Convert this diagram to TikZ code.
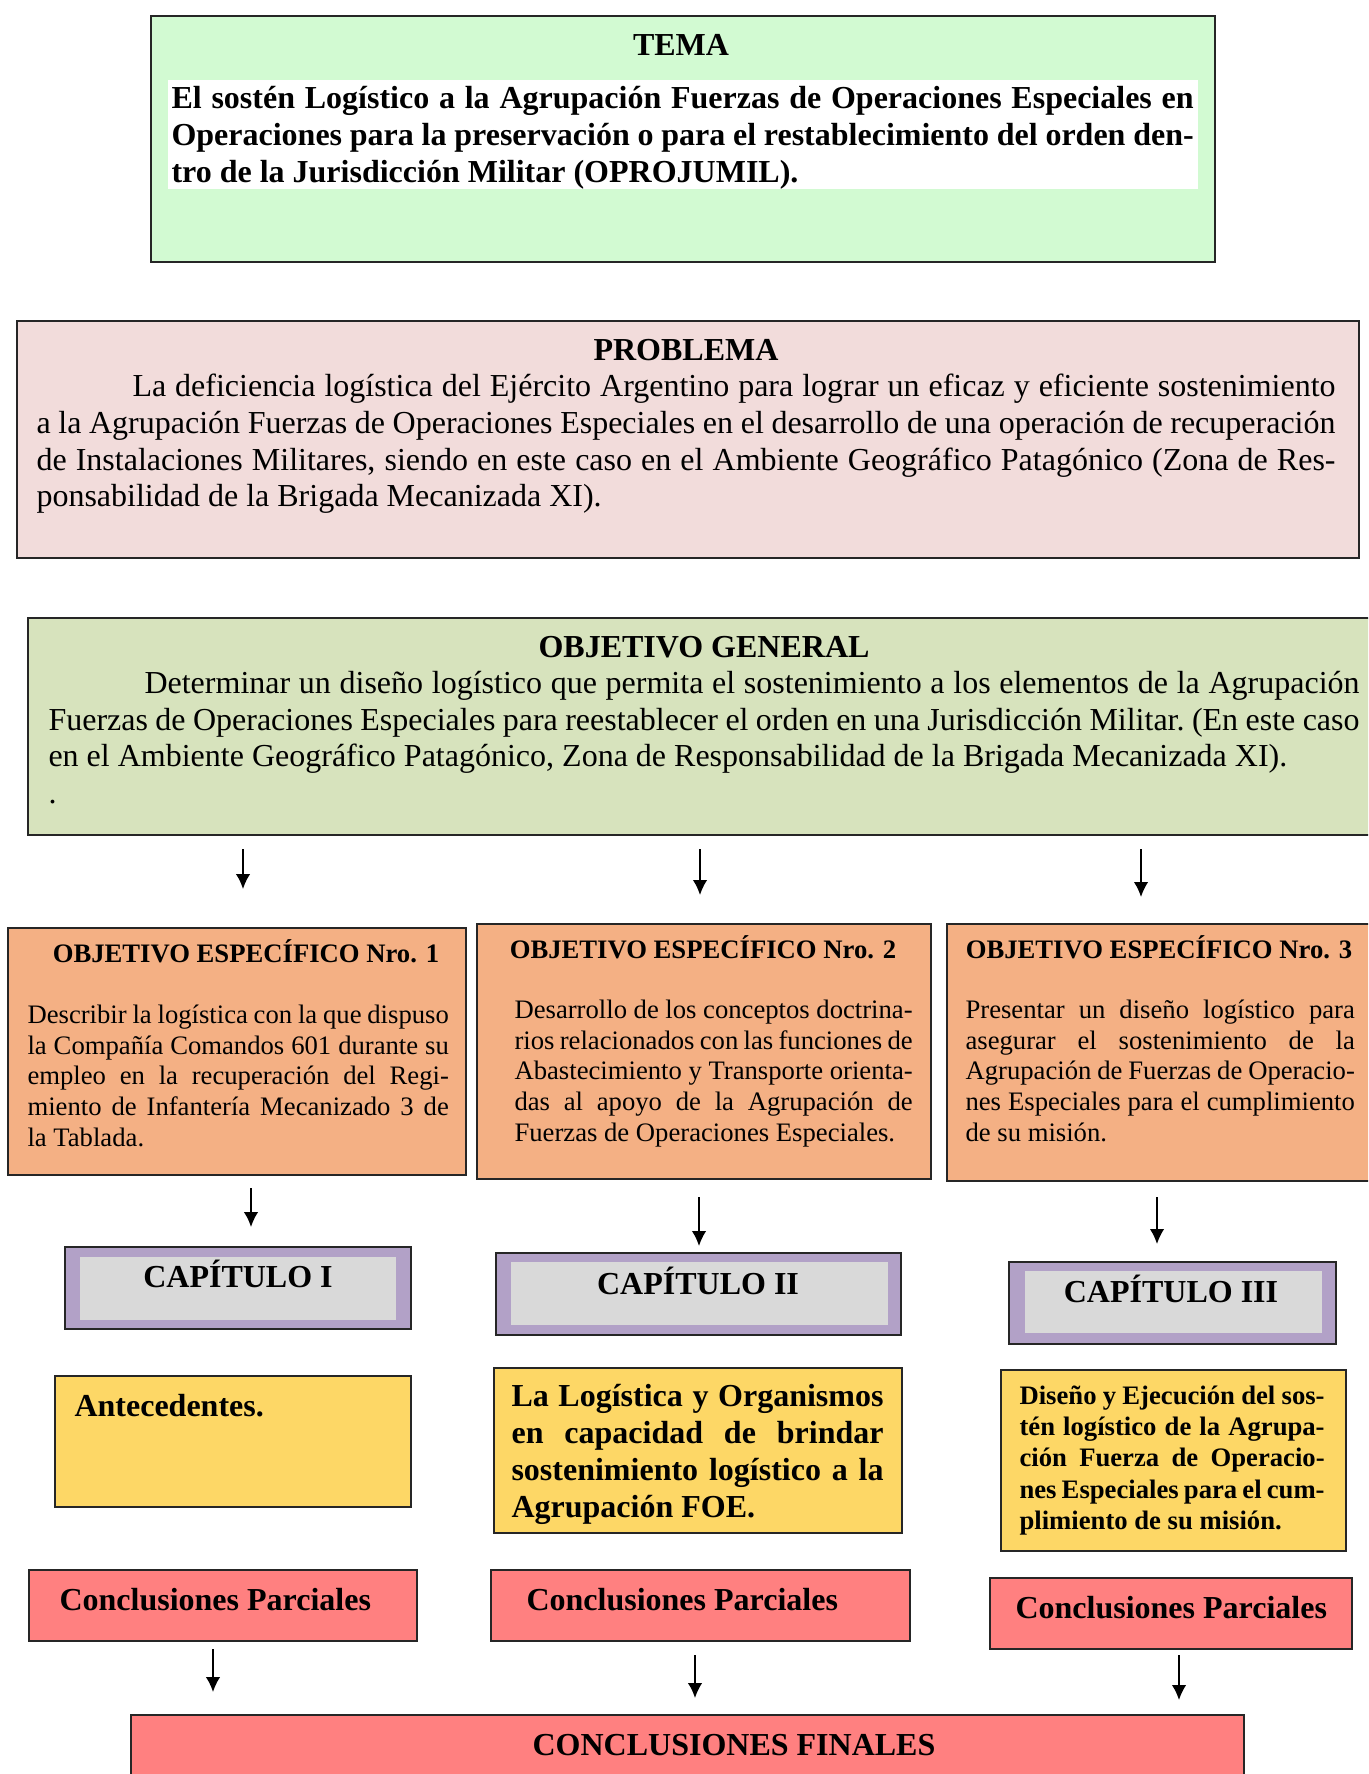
\documentclass[tikz,border=0pt]{standalone}
\usepackage{fontspec}
\setmainfont{Liberation Serif}
\usepackage{tikz}
\usetikzlibrary{positioning}
\usetikzlibrary{shapes,arrows.meta}
\definecolor{temagreen}{RGB}{210,250,210}
\definecolor{probpink}{RGB}{242,220,219}
\definecolor{objgreen}{RGB}{215,227,189}
\definecolor{esporange}{RGB}{244,176,132}
\definecolor{cappurple}{RGB}{178,161,199}
\definecolor{capgray}{RGB}{217,217,217}
\definecolor{contyellow}{RGB}{253,215,102}
\definecolor{concred}{RGB}{255,128,128}
\newcommand{\jl}[1]{\makebox[\linewidth][s]{#1}}
\newcommand{\topstrut}{\rule{0pt}{1em}}
\tikzstyle{box} = [rectangle, draw=black!85, line width=0.8pt, anchor=north west, inner sep=0pt]
\tikzstyle{inbox} = [rectangle, anchor=north west, inner sep=0pt]
\tikzstyle{title} = [anchor=base, inner sep=0pt, font=\fontsize{12}{13.8}\selectfont\bfseries]
\tikzstyle{subtitle} = [anchor=base, inner sep=0pt, font=\fontsize{10}{11.5}\selectfont\bfseries]
\tikzstyle{textblock} = [anchor=north west, inner sep=0pt, align=left,
    execute at begin node={\frenchspacing\spaceskip=0pt\xspaceskip=0pt}]
\tikzstyle{para} = [textblock, yshift=12pt, font=\fontsize{12}{13.8}\selectfont]
\tikzstyle{small} = [textblock, yshift=10pt, font=\fontsize{10}{11.5}\selectfont]
\tikzstyle{line} = [draw, -{Latex[length=5.6pt, width=5.4pt]}, line width=0.6pt]

\begin{document}
\begin{tikzpicture}[x=0.375pt, y=-0.375pt]
\useasboundingbox (0,0) rectangle (1368,1774);
\clip (0,0) rectangle (1368,1774);
            % Boxes
        \node [box, fill=temagreen, minimum width=399pt, minimum height=92.25pt] (tema) at (150,15) {};
        \node [inbox, fill=white, minimum width=386.25pt, minimum height=40.88pt] (temaband) at (167,79) {};
        \node [box, fill=probpink, minimum width=503.25pt, minimum height=88.88pt] (prob) at (16,320) {};
        \node [box, fill=objgreen, minimum width=507.38pt, minimum height=81.38pt] (obj) at (27,617) {};
        \node [box, fill=esporange, minimum width=171.75pt, minimum height=92.63pt] (esp1) at (7,927) {};
        \node [box, fill=esporange, minimum width=170.25pt, minimum height=95.63pt] (esp2) at (476,923) {};
        \node [box, fill=esporange, minimum width=162.75pt, minimum height=96.38pt] (esp3) at (946,923) {};
        \node [box, fill=cappurple, minimum width=129.75pt, minimum height=30.75pt] (cap1) at (64,1246) {};
        \node [inbox, fill=capgray, minimum width=118.5pt, minimum height=23.63pt] (cap1in) at (79,1256) {};
        \node [box, fill=cappurple, minimum width=151.88pt, minimum height=30.75pt] (cap2) at (495,1252) {};
        \node [inbox, fill=capgray, minimum width=141.38pt, minimum height=23.63pt] (cap2in) at (510,1261) {};
        \node [box, fill=cappurple, minimum width=122.63pt, minimum height=30.75pt] (cap3) at (1008,1261) {};
        \node [inbox, fill=capgray, minimum width=111.38pt, minimum height=23.25pt] (cap3in) at (1024,1270) {};
        \node [box, fill=contyellow, minimum width=133.5pt, minimum height=49.13pt] (cont1) at (54,1375) {};
        \node [box, fill=contyellow, minimum width=153pt, minimum height=61.88pt] (cont2) at (493,1367) {};
        \node [box, fill=contyellow, minimum width=129.38pt, minimum height=67.88pt] (cont3) at (1000,1369) {};
        \node [box, fill=concred, minimum width=145.5pt, minimum height=26.63pt] (parc1) at (28,1569) {};
        \node [box, fill=concred, minimum width=157.13pt, minimum height=26.63pt] (parc2) at (490,1569) {};
        \node [box, fill=concred, minimum width=135.75pt, minimum height=26.63pt] (parc3) at (989,1577) {};
        \node [box, fill=concred, minimum width=417.38pt, minimum height=40pt] (fin) at (130,1714) {};
            % Texts
        \node [title] (temahead) at (681,56) {TEMA};
        \node [para, font=\fontsize{12}{13.8}\selectfont\bfseries, text width=383.3pt] (tematext) at (171,108)
            {\jl{\topstrut El sostén Logístico a la Agrupación Fuerzas de Operaciones Especiales en}\\
             \jl{Operaciones para la preservación o para el restablecimiento del orden den-}\\
             tro de la Jurisdicción Militar (OPROJUMIL).};
        \node [title] (probhead) at (686,361) {PROBLEMA};
        \node [para, text width=487.1pt] (probtext) at (36,396)
            {\jl{\topstrut\hspace*{36pt}La deficiencia logística del Ejército Argentino para lograr un eficaz y eficiente sostenimiento}\\
             \jl{a la Agrupación Fuerzas de Operaciones Especiales en el desarrollo de una operación de recuperación}\\
             \jl{de Instalaciones Militares, siendo en este caso en el Ambiente Geográfico Patagónico (Zona de Res-}\\
             ponsabilidad de la Brigada Mecanizada XI).};
        \node [title] (objhead) at (704,657) {OBJETIVO GENERAL};
        \node [para, font=\fontsize{12}{13.7}\selectfont, text width=491.6pt] (objtext) at (48,693)
            {\jl{\topstrut\hspace*{36pt}Determinar un diseño logístico que permita el sostenimiento a los elementos de la Agrupación}\\
             \jl{Fuerzas de Operaciones Especiales para reestablecer el orden en una Jurisdicción Militar. (En este caso}\\
             en el Ambiente Geográfico Patagónico, Zona de Responsabilidad de la Brigada Mecanizada XI).\\
             .};
        \node [subtitle] (esp1head) at (246,962) {OBJETIVO ESPECÍFICO Nro. 1};
        \node [small, text width=158pt] (esp1text) at (27,1023)
            {\jl{\topstrut Describir la logística con la que dispuso}\\
             \jl{la Compañía Comandos 601 durante su}\\
             \jl{empleo en la recuperación del Regi-}\\
             \jl{miento de Infantería Mecanizado 3 de}\\
             la Tablada.};
        \node [subtitle] (esp2head) at (703,958) {OBJETIVO ESPECÍFICO Nro. 2};
        \node [small, text width=149.3pt] (esp2text) at (514,1018)
            {\jl{\topstrut Desarrollo de los conceptos doctrina-}\\
             \jl{rios relacionados con las funciones de}\\
             \jl{Abastecimiento y Transporte orienta-}\\
             \jl{das al apoyo de la Agrupación de}\\
             Fuerzas de Operaciones Especiales.};
        \node [subtitle] (esp3head) at (1159,958) {OBJETIVO ESPECÍFICO Nro. 3};
        \node [small, text width=146pt] (esp3text) at (965,1018)
            {\jl{\topstrut Presentar un diseño logístico para}\\
             \jl{asegurar el sostenimiento de la}\\
             \jl{Agrupación de Fuerzas de Operacio-}\\
             \jl{nes Especiales para el cumplimiento}\\
             de su misión.};
        \node [title] (cap1text) at (238,1287) {CAPÍTULO I};
        \node [title] (cap2text) at (698,1294) {CAPÍTULO II};
        \node [title] (cap3text) at (1171,1302) {CAPÍTULO III};
        \node [title, anchor=base west] (cont1text) at (74,1416) {Antecedentes.};
        \node [para, font=\fontsize{12}{13.9}\selectfont\bfseries, text width=139.5pt] (cont2text) at (511,1406)
            {\jl{\topstrut La Logística y Organismos}\\
             \jl{en capacidad de brindar}\\
             \jl{sostenimiento logístico a la}\\
             Agrupación FOE.};
        \node [small, font=\fontsize{10}{11.7}\selectfont\bfseries, text width=114.4pt] (cont3text) at (1019,1404)
            {\jl{\topstrut Diseño y Ejecución del sos-}\\
             \jl{tén logístico de la Agrupa-}\\
             \jl{ción Fuerza de Operacio-}\\
             \jl{nes Especiales para el cum-}\\
             plimiento de su misión.};
        \node [title, anchor=base west] (parc1text) at (59,1610) {Conclusiones Parciales};
        \node [title, anchor=base west] (parc2text) at (526,1610) {Conclusiones Parciales};
        \node [title, anchor=base west] (parc3text) at (1015,1618) {Conclusiones Parciales};
        \node [title] (fintext) at (734,1755) {CONCLUSIONES FINALES};
            % Arrow ends
        \coordinate (s1) at (243,849);  \coordinate (e1) at (243,889);
        \coordinate (s2) at (700,849);  \coordinate (e2) at (700,895);
        \coordinate (s3) at (1141,849); \coordinate (e3) at (1141,897);
        \coordinate (s4) at (251,1188); \coordinate (e4) at (251,1227);
        \coordinate (s5) at (699,1197); \coordinate (e5) at (699,1246);
        \coordinate (s6) at (1157,1197); \coordinate (e6) at (1157,1244);
        \coordinate (s7) at (213,1649); \coordinate (e7) at (213,1692);
        \coordinate (s8) at (695,1655); \coordinate (e8) at (695,1698);
        \coordinate (s9) at (1179,1655); \coordinate (e9) at (1179,1700);
            % Edges
        \path [line] (s1) -- (e1);
        \path [line] (s2) -- (e2);
        \path [line] (s3) -- (e3);
        \path [line] (s4) -- (e4);
        \path [line] (s5) -- (e5);
        \path [line] (s6) -- (e6);
        \path [line] (s7) -- (e7);
        \path [line] (s8) -- (e8);
        \path [line] (s9) -- (e9);
\end{tikzpicture}
\end{document}
